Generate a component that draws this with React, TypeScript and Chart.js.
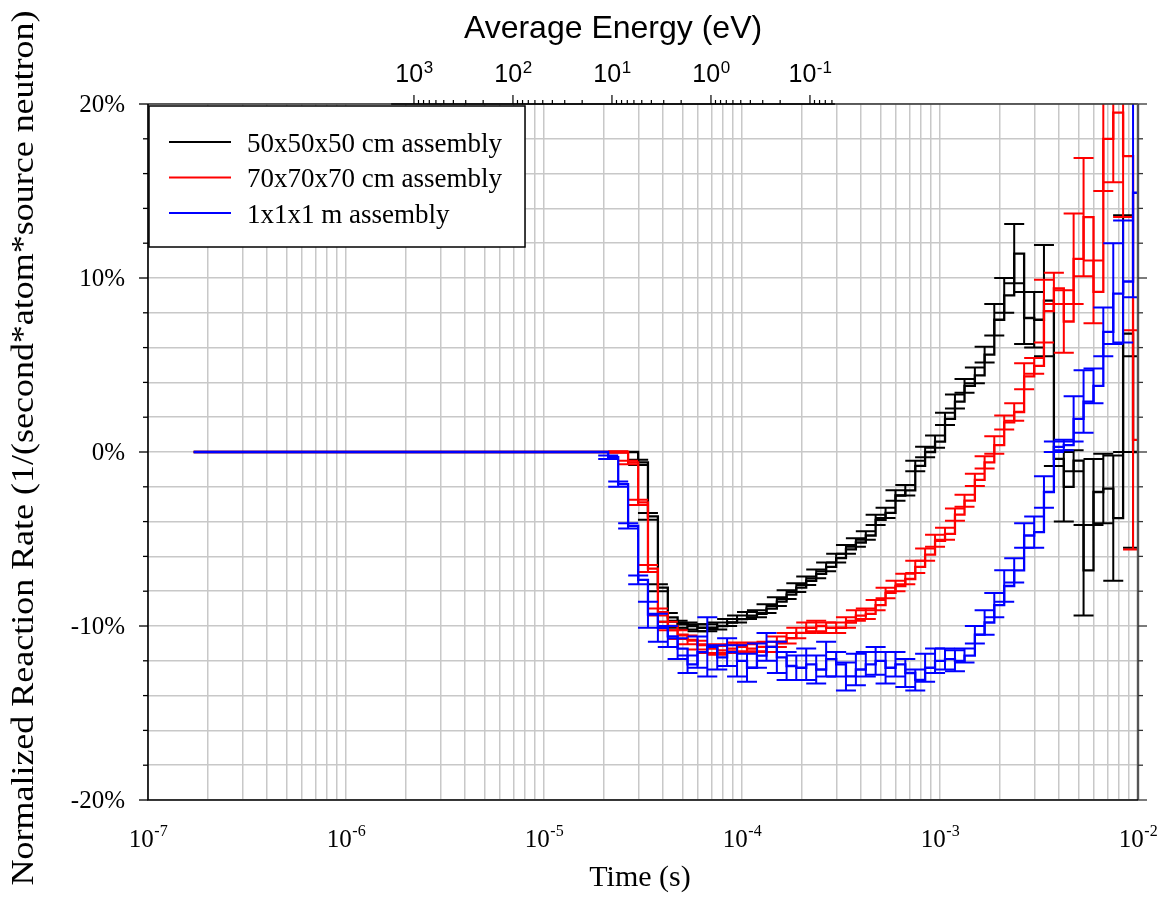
import React, { useEffect, useRef } from 'react';
import { Chart, registerables } from 'chart.js';

Chart.register(...registerables);

// ---------------- data ----------------
const START_TIME_S = 1.7e-7;

// histogram bin left edges (s), 20 bins per decade, last entry closes the final bin
const BIN_EDGES_S = [
  2.11e-5, 2.37e-5, 2.66e-5, 2.99e-5, 3.35e-5, 3.76e-5, 4.22e-5, 4.73e-5, 5.31e-5, 5.96e-5,
  6.68e-5, 7.50e-5, 8.41e-5, 9.44e-5,
  1.06e-4, 1.19e-4, 1.33e-4, 1.50e-4, 1.68e-4, 1.88e-4, 2.11e-4, 2.37e-4, 2.66e-4, 2.99e-4,
  3.35e-4, 3.76e-4, 4.22e-4, 4.73e-4, 5.31e-4, 5.96e-4, 6.68e-4, 7.50e-4, 8.41e-4, 9.44e-4,
  1.06e-3, 1.19e-3, 1.33e-3, 1.50e-3, 1.68e-3, 1.88e-3, 2.11e-3, 2.37e-3, 2.66e-3, 2.99e-3,
  3.35e-3, 3.76e-3, 4.22e-3, 4.73e-3, 5.31e-3, 5.96e-3, 6.68e-3, 7.50e-3, 8.41e-3, 9.44e-3,
  1.06e-2,
];

const SERIES_LABELS = ['50x50x50 cm assembly', '70x70x70 cm assembly', '1x1x1 m assembly'];

// values in % per bin
const BLACK_VALUES = [
  0, 0, 0, -0.6, -3.7, -7.8, -9.5, -9.9, -10.0, -10.1,
  -10.1, -10.0, -9.8, -9.6, -9.4, -9.3, -9.0, -8.6, -8.2, -7.8,
  -7.4, -7.0, -6.6, -6.1, -5.6, -5.2, -4.8, -3.9, -3.5, -2.5,
  -2.2, -0.8, 0.0, 0.6, 1.9, 2.9, 3.8, 4.4, 5.6, 7.6,
  9.0, 11.4, 7.7, 7.6, 8.7, -0.4, -2.0, -0.5, -6.8, -2.3,
  -2.1, -3.8, 6.8, 0.0,
];
const BLACK_ERRORS = [
  0, 0, 0, 0.15, 0.2, 0.2, 0.25, 0.2, 0.2, 0.2,
  0.2, 0.2, 0.2, 0.2, 0.2, 0.2, 0.25, 0.25, 0.25, 0.25,
  0.25, 0.25, 0.25, 0.25, 0.25, 0.25, 0.25, 0.3, 0.3, 0.3,
  0.3, 0.3, 0.3, 0.35, 0.35, 0.4, 0.4, 0.45, 0.45, 0.9,
  1.0, 1.7, 1.5, 1.6, 3.2, 0.4, 2.0, 0.6, 2.6, 1.9,
  2.0, 3.6, 6.8, 5.5,
];

const RED_VALUES = [
  0, 0, -0.6, -2.9, -6.7, -9.2, -10.0, -10.5, -10.8, -11.1,
  -11.3, -11.4, -11.3, -11.2, -11.3, -11.2, -11.2, -10.9, -10.7, -10.4,
  -10.1, -10.0, -10.1, -10.1, -9.8, -9.4, -9.3, -8.8, -8.1, -7.7,
  -7.3, -6.6, -5.9, -5.1, -4.7, -3.6, -2.8, -1.6, -0.6, 0.4,
  1.7, 2.3, 4.35, 4.95, 8.1, 9.4, 7.5, 11.1, 13.5, 9.2,
  18.0, 19.5, 17.0, 0.7,
];
const RED_ERRORS = [
  0, 0.05, 0.1, 0.15, 0.2, 0.2, 0.25, 0.25, 0.25, 0.25,
  0.25, 0.25, 0.25, 0.25, 0.25, 0.25, 0.3, 0.3, 0.3, 0.3,
  0.3, 0.3, 0.3, 0.3, 0.3, 0.3, 0.3, 0.3, 0.3, 0.3,
  0.3, 0.35, 0.35, 0.35, 0.35, 0.35, 0.35, 0.35, 0.35, 0.5,
  0.4, 0.5, 0.75, 0.45, 1.8, 0.9, 1.8, 2.6, 3.4, 1.8,
  3.0, 4.0, 3.5, 6.3,
];

const BLUE_VALUES = [
  -0.3, -1.85, -4.25, -7.35, -9.35, -10.1, -10.6, -11.3, -12.2, -11.5,
  -11.2, -11.8, -11.5, -12.0, -12.4, -11.7, -11.2, -11.8, -12.3, -12.4,
  -12.2, -12.5, -11.9, -12.2, -12.9, -12.5, -12.2, -12.0, -12.4, -12.2,
  -12.7, -13.1, -12.4, -12.0, -11.9, -12.0, -11.7, -10.5, -9.8, -8.8,
  -7.7, -6.8, -4.8, -4.6, -2.3, 0.3, 0.4, 1.9, 2.9, 3.8,
  6.9, 9.1, 9.8, 14.9,
];
const BLUE_ERRORS = [
  0.1, 0.15, 0.15, 0.25, 0.75, 0.8, 0.6, 0.6, 0.5, 0.9,
  1.7, 0.7, 0.8, 0.9, 0.8, 0.7, 0.8, 0.9, 0.8, 0.7,
  0.9, 0.8, 1.0, 0.7, 0.8, 0.9, 0.7, 0.8, 0.9, 0.7,
  0.8, 0.6, 0.8, 0.7, 0.6, 0.6, 0.4, 0.5, 0.7, 0.7,
  0.9, 0.7, 0.7, 0.9, 0.9, 0.3, 0.3, 1.3, 1.8, 1.0,
  1.4, 2.9, 3.5, 6.0,
];

// axes
const X_MIN = 1e-7;
const X_MAX = 1e-2;
const X_DECADES = [-7, -6, -5, -4, -3, -2];
const Y_MIN = -20;
const Y_MAX = 20;
const Y_STEP = 2;
const Y_LABELS = [-20, -10, 0, 10, 20];
const ENERGY_DECADES = [3, 2, 1, 0, -1];
const TIME_AT_1EV_S = 6.97e-5; // t = TIME_AT_1EV_S / sqrt(E[eV])
const ENERGY_AXIS_MAX_EV = 1700;
const ENERGY_AXIS_MIN_EV = 0.056;

const X_TITLE = 'Time (s)';
const Y_TITLE = 'Normalized Reaction Rate (1/(second*atom*source neutron)';
const TOP_TITLE = 'Average Energy (eV)';

const SERIF = "'Liberation Serif', 'Times New Roman', serif";
const SANS = "'Liberation Sans', Arial, sans-serif";

const SERIES = [
  { label: SERIES_LABELS[0], color: '#000000', values: BLACK_VALUES, errors: BLACK_ERRORS, order: 2 },
  { label: SERIES_LABELS[1], color: '#ff0000', values: RED_VALUES, errors: RED_ERRORS, order: 1 },
  { label: SERIES_LABELS[2], color: '#0000ff', values: BLUE_VALUES, errors: BLUE_ERRORS, order: 0 },
];

function stepPoints(values: number[]) {
  const pts: { x: number; y: number }[] = [{ x: START_TIME_S, y: 0 }];
  values.forEach((v, i) => pts.push({ x: BIN_EDGES_S[i], y: v }));
  pts.push({ x: BIN_EDGES_S[values.length], y: values[values.length - 1] });
  return pts;
}

function drawPow(ctx: CanvasRenderingContext2D, cx: number, baseY: number, exp: string, family: string, big: number, small: number, raise: number) {
  ctx.font = `${big}px ${family}`;
  const w1 = ctx.measureText('10').width;
  ctx.font = `${small}px ${family}`;
  const w2 = ctx.measureText(exp).width;
  const start = cx - (w1 + w2) / 2;
  ctx.textAlign = 'left';
  ctx.textBaseline = 'alphabetic';
  ctx.font = `${big}px ${family}`;
  ctx.fillText('10', start, baseY);
  ctx.font = `${small}px ${family}`;
  ctx.fillText(exp, start + w1 + 0.5, baseY - raise);
}

const errorBarPlugin = {
  id: 'errorBars',
  afterDatasetDraw(chart: any, args: any) {
    const s = SERIES[args.index];
    if (!s) return;
    const { ctx, chartArea: a } = chart;
    const xs = chart.scales.x;
    const ys = chart.scales.y;
    ctx.save();
    ctx.beginPath();
    ctx.rect(a.left, a.top, a.right - a.left, a.bottom - a.top);
    ctx.clip();
    ctx.strokeStyle = s.color;
    ctx.lineWidth = 2;
    s.values.forEach((v: number, i: number) => {
      const e = s.errors[i];
      if (!e) return;
      const px = xs.getPixelForValue(BIN_EDGES_S[i]);
      const y1 = ys.getPixelForValue(v + e);
      const y2 = ys.getPixelForValue(v - e);
      ctx.beginPath();
      ctx.moveTo(px, y1);
      ctx.lineTo(px, y2);
      ctx.moveTo(px - 10, y1);
      ctx.lineTo(px + 10, y1);
      ctx.moveTo(px - 10, y2);
      ctx.lineTo(px + 10, y2);
      ctx.stroke();
    });
    ctx.restore();
  },
};

const decorPlugin = {
  id: 'decor',
  beforeDraw(chart: any) {
    const ctx = chart.ctx;
    ctx.save();
    ctx.fillStyle = '#ffffff';
    ctx.fillRect(0, 0, chart.width, chart.height);
    ctx.restore();
  },
  afterDraw(chart: any) {
    const { ctx, chartArea: a } = chart;
    const xs = chart.scales.x;
    const ys = chart.scales.y;
    ctx.save();

    // frame
    ctx.lineCap = 'butt';
    ctx.strokeStyle = '#333333';
    ctx.lineWidth = 1.5;
    ctx.beginPath();
    ctx.moveTo(a.left, a.top);
    ctx.lineTo(a.right, a.top);
    ctx.stroke();
    ctx.strokeStyle = '#555555';
    ctx.lineWidth = 2.4;
    ctx.beginPath();
    ctx.moveTo(a.right, a.top);
    ctx.lineTo(a.right, a.bottom);
    ctx.stroke();
    ctx.strokeStyle = '#000000';
    ctx.lineWidth = 1.6;
    ctx.beginPath();
    ctx.moveTo(a.left, a.top);
    ctx.lineTo(a.left, a.bottom);
    ctx.lineTo(a.right, a.bottom);
    ctx.stroke();

    // y ticks left & right
    ctx.lineWidth = 1.3;
    for (let v = Y_MIN; v <= Y_MAX; v += Y_STEP) {
      const y = ys.getPixelForValue(v);
      const len = v % 10 === 0 ? 9 : 5;
      ctx.strokeStyle = '#000000';
      ctx.beginPath();
      ctx.moveTo(a.left - len, y);
      ctx.lineTo(a.left, y);
      ctx.stroke();
      ctx.strokeStyle = '#333333';
      ctx.beginPath();
      ctx.moveTo(a.right, y);
      ctx.lineTo(a.right + len, y);
      ctx.stroke();
    }

    // y labels
    ctx.fillStyle = '#000000';
    ctx.font = `25px ${SERIF}`;
    ctx.textAlign = 'right';
    ctx.textBaseline = 'middle';
    for (const v of Y_LABELS) {
      ctx.fillText(`${v}%`, a.left - 23, ys.getPixelForValue(v) + 1);
    }

    // x labels
    for (const d of X_DECADES) {
      drawPow(ctx, xs.getPixelForValue(Math.pow(10, d)), a.bottom + 47, `${d}`, SERIF, 25, 16, 11);
    }

    // x title
    ctx.font = `30px ${SERIF}`;
    ctx.textAlign = 'center';
    ctx.textBaseline = 'alphabetic';
    ctx.fillText(X_TITLE, 640, a.bottom + 86);

    // y title (rotated)
    ctx.save();
    ctx.font = `32px ${SERIF}`;
    const yw = ctx.measureText(Y_TITLE).width;
    ctx.translate(25, 448);
    ctx.rotate(-Math.PI / 2);
    ctx.scale(875 / yw, 1);
    ctx.textAlign = 'center';
    ctx.textBaseline = 'middle';
    ctx.fillText(Y_TITLE, 0, 0);
    ctx.restore();

    // top energy axis
    const eToPx = (e: number) => xs.getPixelForValue(TIME_AT_1EV_S / Math.sqrt(e));
    const eLeft = eToPx(ENERGY_AXIS_MAX_EV);
    const eRight = eToPx(ENERGY_AXIS_MIN_EV);
    ctx.strokeStyle = '#000000';
    ctx.lineWidth = 1.5;
    ctx.beginPath();
    ctx.moveTo(eLeft, a.top);
    ctx.lineTo(eRight, a.top);
    ctx.stroke();
    ctx.lineWidth = 1.2;
    for (let d = 3; d >= -2; d--) {
      for (let m = 9; m >= 1; m--) {
        const e = m * Math.pow(10, d);
        if (e > ENERGY_AXIS_MAX_EV || e < ENERGY_AXIS_MIN_EV) continue;
        const px = eToPx(e);
        const len = m === 1 ? 9 : 4;
        ctx.beginPath();
        ctx.moveTo(px, a.top);
        ctx.lineTo(px, a.top - len);
        ctx.stroke();
      }
    }
    for (const d of ENERGY_DECADES) {
      drawPow(ctx, eToPx(Math.pow(10, d)), 82, `${d}`, SANS, 25, 17, 9);
    }
    ctx.font = `32px ${SANS}`;
    ctx.textAlign = 'center';
    ctx.textBaseline = 'alphabetic';
    ctx.fillText(TOP_TITLE, (eLeft + eRight) / 2, 38);

    // legend
    const lx = a.left + 1;
    const ly = a.top + 2;
    const lw = 376;
    const lh = 141;
    ctx.fillStyle = '#ffffff';
    ctx.fillRect(lx, ly, lw, lh);
    ctx.strokeStyle = '#000000';
    ctx.lineWidth = 1.5;
    ctx.strokeRect(lx, ly, lw, lh);
    SERIES.forEach((s, i) => {
      const yy = ly + 36 + i * 35.5;
      ctx.strokeStyle = s.color;
      ctx.lineWidth = 2;
      ctx.beginPath();
      ctx.moveTo(lx + 20, yy);
      ctx.lineTo(lx + 82, yy);
      ctx.stroke();
      ctx.fillStyle = '#000000';
      ctx.font = `27px ${SERIF}`;
      ctx.textAlign = 'left';
      ctx.textBaseline = 'alphabetic';
      ctx.fillText(s.label, lx + 98, yy + 9.5);
    });

    ctx.restore();
  },
};

export default function App() {
  const canvasRef = useRef<HTMLCanvasElement | null>(null);

  useEffect(() => {
    const canvas = canvasRef.current;
    if (!canvas) return;
    const gridColor = '#c8c8c8';
    const chart = new Chart(canvas, {
      type: 'line',
      data: {
        datasets: SERIES.map((s) => ({
          label: s.label,
          data: stepPoints(s.values),
          borderColor: s.color,
          backgroundColor: s.color,
          borderWidth: 2.3,
          pointRadius: 0,
          stepped: true,
          fill: false,
          order: s.order,
        })),
      },
      options: {
        responsive: false,
        devicePixelRatio: 1,
        animation: false,
        events: [],
        layout: { padding: { left: 0, right: 31, top: 0, bottom: 0 } },
        plugins: { legend: { display: false }, tooltip: { enabled: false }, title: { display: false } },
        scales: {
          x: {
            type: 'logarithmic',
            position: 'bottom',
            min: X_MIN,
            max: X_MAX,
            border: { display: false },
            grid: { color: gridColor, lineWidth: 1.5, drawTicks: false },
            ticks: { display: false },
            afterBuildTicks: (scale: any) => {
              const ticks: { value: number; major: boolean }[] = [];
              for (const d of X_DECADES) {
                for (let m = 1; m <= 9; m++) {
                  const t = m * Math.pow(10, d);
                  if (t > X_MAX * 1.0001) break;
                  ticks.push({ value: t, major: m === 1 });
                }
              }
              scale.ticks = ticks;
            },
            afterFit: (scale: any) => {
              scale.height = 117;
            },
          },
          x2: {
            type: 'logarithmic',
            position: 'top',
            min: X_MIN,
            max: X_MAX,
            border: { display: false },
            grid: { display: false, drawTicks: false },
            ticks: { display: false },
            afterFit: (scale: any) => {
              scale.height = 104;
            },
          },
          y: {
            type: 'linear',
            min: Y_MIN,
            max: Y_MAX,
            border: { display: false },
            grid: { color: gridColor, lineWidth: 1.5, drawTicks: false },
            ticks: { display: false, stepSize: Y_STEP },
            afterFit: (scale: any) => {
              scale.width = 148;
            },
          },
        },
      } as any,
      plugins: [errorBarPlugin, decorPlugin],
    });
    return () => chart.destroy();
  }, []);

  return (
    <canvas
      ref={canvasRef}
      width={1169}
      height={917}
      style={{ position: 'fixed', left: 0, top: 0, width: 1169, height: 917 }}
    />
  );
}
